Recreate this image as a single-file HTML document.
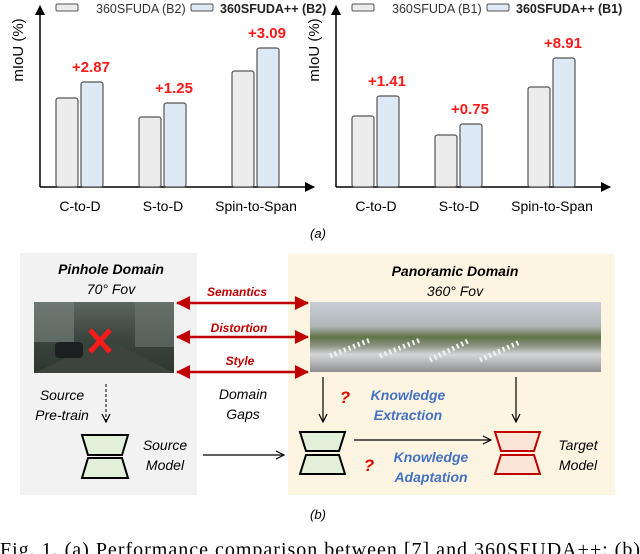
<!DOCTYPE html>
<html><head><meta charset="utf-8">
<style>
html,body{margin:0;padding:0;background:#fff;}
svg{display:block;}
text{font-family:"Liberation Sans",sans-serif;}
.it{font-style:italic;}
</style></head>
<body>
<svg id="fig" width="640" height="554" viewBox="0 0 640 554" xmlns="http://www.w3.org/2000/svg">
<defs>
<marker id="ah" markerWidth="10" markerHeight="10" refX="9" refY="5" orient="auto" markerUnits="userSpaceOnUse"><path d="M0,0 L10,5 L0,10 z" fill="#000"/></marker>
<marker id="oa" markerWidth="10" markerHeight="10" refX="9" refY="5" orient="auto" markerUnits="userSpaceOnUse"><path d="M1,1 L9,5 L1,9" fill="none" stroke="#000" stroke-width="1.2"/></marker>
<marker id="ra" markerWidth="14" markerHeight="14" refX="13" refY="7" orient="auto-start-reverse" markerUnits="userSpaceOnUse"><path d="M0,0 L14,7 L0,14 z" fill="#c00000"/></marker>
<linearGradient id="pin" x1="0" y1="0" x2="0" y2="1"><stop offset="0" stop-color="#5a6660"/><stop offset="0.5" stop-color="#3b463f"/><stop offset="1" stop-color="#2e3630"/></linearGradient>
<linearGradient id="pan" x1="0" y1="0" x2="0" y2="1"><stop offset="0" stop-color="#c9ced6"/><stop offset="0.35" stop-color="#aeb6b8"/><stop offset="0.5" stop-color="#5f7444"/><stop offset="0.62" stop-color="#8a9080"/><stop offset="0.75" stop-color="#d4d6d8"/><stop offset="1" stop-color="#8d8f92"/></linearGradient>
</defs>
<g id="charts"></g>
<text x="318" y="238" text-anchor="middle" font-size="13" class="it">(a)</text>

<rect x="20" y="253" width="177" height="242" fill="#f2f2f2"/>
<rect x="288" y="254" width="327" height="241" fill="#fdf5e1"/>
<text x="111" y="274" text-anchor="middle" font-size="14" font-weight="bold" class="it">Pinhole Domain</text>
<text x="111" y="294" text-anchor="middle" font-size="14" class="it">70° Fov</text>
<text x="455" y="276" text-anchor="middle" font-size="14" font-weight="bold" class="it">Panoramic Domain</text>
<text x="455" y="296" text-anchor="middle" font-size="14" class="it">360° Fov</text>
<g>
<rect x="34" y="302" width="140" height="71" fill="url(#pin)"/>
<rect x="34" y="302" width="40" height="40" fill="#7a8480" opacity="0.6"/>
<rect x="135" y="302" width="39" height="45" fill="#6e7872" opacity="0.6"/>
<path d="M34,373 L95,345 L120,345 L174,373 z" fill="#3d4440"/>
<rect x="55" y="342" width="28" height="16" rx="4" fill="#1c1f20"/>
<path d="M90,330 L110,352 M110,330 L90,352" stroke="#ff1a1a" stroke-width="5"/>
</g>
<g>
<rect x="310" y="302" width="291" height="70" fill="url(#pan)"/>
<path d="M330,356 L370,340 M380,356 L420,340 M430,360 L470,340 M480,360 L520,342" stroke="#f3f3f3" stroke-width="5" stroke-dasharray="2 3"/>
</g>
<g>
<line x1="177" y1="303" x2="308" y2="303" stroke="#c00000" stroke-width="2.5" marker-start="url(#ra)" marker-end="url(#ra)"/>
<line x1="177" y1="337" x2="308" y2="337" stroke="#c00000" stroke-width="2.5" marker-start="url(#ra)" marker-end="url(#ra)"/>
<line x1="177" y1="372" x2="308" y2="372" stroke="#c00000" stroke-width="2.5" marker-start="url(#ra)" marker-end="url(#ra)"/>
</g>
<text x="237" y="296" text-anchor="middle" font-size="12" font-weight="bold" class="it" fill="#c00000">Semantics</text>
<text x="239" y="332" text-anchor="middle" font-size="12" font-weight="bold" class="it" fill="#c00000">Distortion</text>
<text x="240" y="365" text-anchor="middle" font-size="12" font-weight="bold" class="it" fill="#c00000">Style</text>
<text x="243" y="399" text-anchor="middle" font-size="14" class="it"><tspan x="243">Domain</tspan><tspan x="243" dy="20">Gaps</tspan></text>
<text x="62" y="400" text-anchor="middle" font-size="14" class="it"><tspan x="62">Source</tspan><tspan x="62" dy="20">Pre-train</tspan></text>
<line x1="106" y1="384" x2="106" y2="422" stroke="#000" stroke-width="1" stroke-dasharray="3 2" marker-end="url(#oa)"/>
<g>
<path d="M82,435 L128,435 L122,455 L88,455 z" fill="#e2f0d9" stroke="#000" stroke-width="2"/>
<path d="M88,458 L122,458 L128,478 L82,478 z" fill="#e2f0d9" stroke="#000" stroke-width="2"/>
</g>
<text x="165" y="450" text-anchor="middle" font-size="14" class="it"><tspan x="165">Source</tspan><tspan x="165" dy="20">Model</tspan></text>
<line x1="203" y1="455" x2="284" y2="455" stroke="#000" stroke-width="1.2" marker-end="url(#oa)"/>
<g>
<path d="M300,432 L345,432 L339,451 L306,451 z" fill="#e2f0d9" stroke="#000" stroke-width="2"/>
<path d="M306,455 L339,455 L345,474 L300,474 z" fill="#e2f0d9" stroke="#000" stroke-width="2"/>
</g>
<line x1="323" y1="377" x2="323" y2="422" stroke="#000" stroke-width="1.2" marker-end="url(#oa)"/>
<line x1="516" y1="377" x2="516" y2="422" stroke="#000" stroke-width="1.2" marker-end="url(#oa)"/>
<line x1="354" y1="440" x2="491" y2="440" stroke="#000" stroke-width="1.2" marker-end="url(#oa)"/>
<g>
<path d="M495,432 L540,432 L534,451 L501,451 z" fill="#fbe5d6" stroke="#c00000" stroke-width="2"/>
<path d="M501,455 L534,455 L540,474 L495,474 z" fill="#fbe5d6" stroke="#c00000" stroke-width="2"/>
</g>
<text x="578" y="450" text-anchor="middle" font-size="14" class="it"><tspan x="578">Target</tspan><tspan x="578" dy="20">Model</tspan></text>
<text x="345" y="403" text-anchor="middle" font-size="17" font-weight="bold" class="it" fill="#e00000">?</text>
<text x="369" y="471" text-anchor="middle" font-size="17" font-weight="bold" class="it" fill="#e00000">?</text>
<text x="408" y="400" text-anchor="middle" font-size="14" font-weight="bold" class="it" fill="#4472c4"><tspan x="408">Knowledge</tspan><tspan x="408" dy="20">Extraction</tspan></text>
<text x="431" y="462" text-anchor="middle" font-size="14" font-weight="bold" class="it" fill="#4472c4"><tspan x="431">Knowledge</tspan><tspan x="431" dy="20">Adaptation</tspan></text>
<text x="318" y="519" text-anchor="middle" font-size="13" class="it">(b)</text>
<text x="0" y="556" font-size="20" textLength="640" lengthAdjust="spacing" style="font-family:'Liberation Serif',serif">Fig. 1.  (a) Performance comparison between  [7] and 360SFUDA++; (b)</text>
</svg>
<script>
const categories = ["C-to-D", "S-to-D", "Spin-to-Span"];
const leftBase = [89, 70, 116];
const leftPlus = [105, 84, 139];
const leftGain = ["+2.87", "+1.25", "+3.09"];
const rightBase = [71, 52, 100];
const rightPlus = [91, 63, 129];
const rightGain = ["+1.41", "+0.75", "+8.91"];
const leftLegend = ["360SFUDA (B2)", "360SFUDA++ (B2)"];
const rightLegend = ["360SFUDA (B1)", "360SFUDA++ (B1)"];
const yMax = 180;

const NS = "http://www.w3.org/2000/svg";
const root = document.getElementById("charts");
function mk(tag, attrs, parent) {
  const e = document.createElementNS(NS, tag);
  for (const k in attrs) e.setAttribute(k, attrs[k]);
  (parent || root).appendChild(e);
  return e;
}
function drawChart(ox, base, plus, gain, legend, side) {
  const g = mk("g", {});
  
  
  const x0 = ox, yBase = 187, plotTop = 7;
  const yScale = v => yBase - v / yMax * (yBase - plotTop);
  const groupX = [ox + 16, ox + 99, ox + 192];
  const bw = 22;
  const ya = mk("line", {x1: x0, y1: yBase, x2: x0, y2: 6, stroke: "#000", "stroke-width": 1.5, "marker-end": "url(#ah)"}, g);
  
  
  const xa = mk("line", {x1: x0, y1: yBase, x2: x0 + 274, y2: yBase, stroke: "#000", "stroke-width": 1.5, "marker-end": "url(#ah)"}, g);
  
  
  const yt = mk("text", {x: 0, y: 0, "font-size": 15, "text-anchor": "middle", transform: `translate(${x0 - 17},50) rotate(-90)`}, g);
  yt.textContent = "mIoU (%)";
  
  
  categories.forEach((c, i) => {
    const gx = groupX[i];
    const b1 = mk("rect", {x: gx, y: yScale(base[i]), width: bw, height: yBase - yScale(base[i]), rx: 2.5, fill: "#ececec", stroke: "#555", "stroke-width": 1.2}, g);
    
    
    const b2 = mk("rect", {x: gx + 25, y: yScale(plus[i]), width: bw, height: yBase - yScale(plus[i]), rx: 2.5, fill: "#dde9f5", stroke: "#555", "stroke-width": 1.2}, g);
    
    
    const gt = mk("text", {x: gx + 35, y: yScale(plus[i]) - 10, "text-anchor": "middle", "font-size": 15, "font-weight": "bold", fill: "#ff1a1a"}, g);
    gt.textContent = gain[i];
    
    
    const lt = mk("text", {x: gx + 24, y: 211, "text-anchor": "middle", "font-size": 14}, g);
    lt.textContent = c;
    
    
  });
  const l1 = mk("rect", {x: ox + 16, y: 4, width: 22, height: 7, rx: 1.5, fill: "#ececec", stroke: "#555", "stroke-width": 1}, g);
  
  
  const t1 = mk("text", {x: ox + 56, y: 13, "font-size": 12.5, fill: "#333"}, g);
  t1.textContent = legend[0];
  
  
  const l2 = mk("rect", {x: ox + 151, y: 4, width: 22, height: 7, rx: 1.5, fill: "#dde9f5", stroke: "#555", "stroke-width": 1}, g);
  
  
  const t2 = mk("text", {x: ox + 180, y: 13, "font-size": 12.5, "font-weight": "bold", fill: "#222"}, g);
  t2.textContent = legend[1];
  
  
}
drawChart(40, leftBase, leftPlus, leftGain, leftLegend, "left");
drawChart(336, rightBase, rightPlus, rightGain, rightLegend, "right");
</script>
</body></html>
